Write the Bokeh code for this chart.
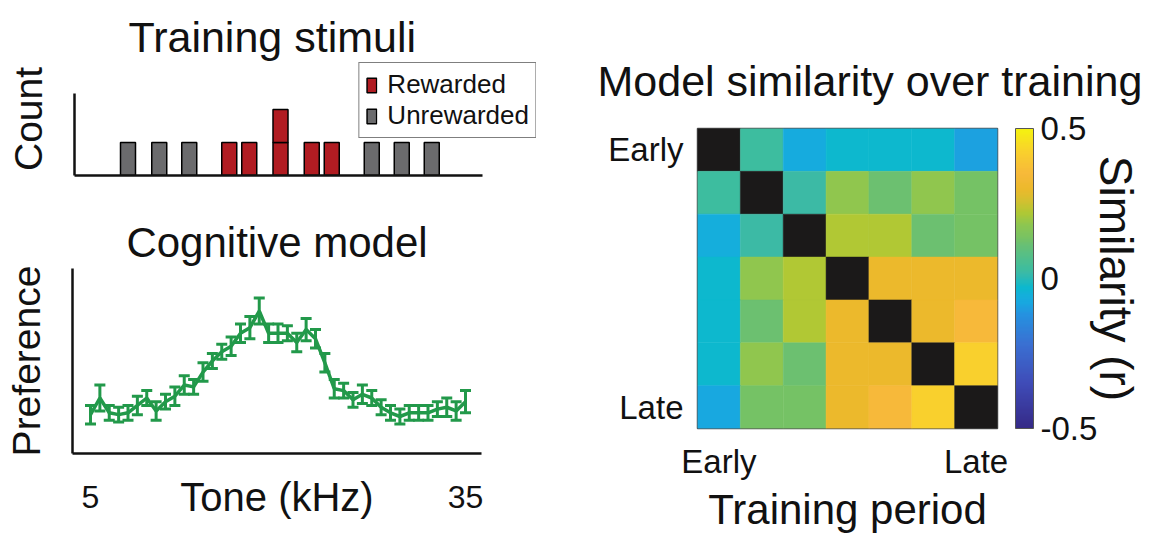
import numpy as np
from bokeh.plotting import figure
from bokeh.layouts import row, column
from bokeh.models import (ColumnDataSource, Whisker, TeeHead, LinearColorMapper, ColorBar,
                          FixedTicker, CustomJSTickFormatter, Title, Legend, LegendItem)
from bokeh.embed import file_html
from bokeh.resources import INLINE

# ---------------- data ----------------
# Training stimuli (tone in kHz, number of stimuli, rewarded?)
stim_tone = [8.0, 10.5, 12.9, 16.1, 17.7, 20.2, 22.7, 24.3, 27.5, 29.9, 32.3]
stim_count = [1, 1, 1, 1, 1, 2, 1, 1, 1, 1, 1]
stim_rewarded = [False, False, False, True, True, True, True, True, False, False, False]

# Cognitive model preference curve
model_tone = [5.0, 5.75, 6.5, 7.25, 8.0, 8.75, 9.5, 10.25, 11.0, 11.75, 12.5, 13.25, 14.0,
              14.75, 15.5, 16.25, 17.0, 17.75, 18.5, 19.25, 20.0, 20.75, 21.5, 22.25, 23.0,
              23.75, 24.5, 25.25, 26.0, 26.75, 27.5, 28.25, 29.0, 29.75, 30.5, 31.25, 32.0,
              32.75, 33.5, 34.25, 35.0]
model_pref = [0.21, 0.30, 0.22, 0.21, 0.22, 0.26, 0.30, 0.23, 0.28, 0.31, 0.37, 0.36, 0.44,
              0.50, 0.55, 0.58, 0.65, 0.68, 0.77, 0.65, 0.65, 0.65, 0.60, 0.67, 0.62,
              0.49, 0.35, 0.34, 0.29, 0.32, 0.30, 0.25, 0.22, 0.20, 0.22, 0.22, 0.22,
              0.24, 0.25, 0.23, 0.28]
model_err = [0.05, 0.07, 0.04, 0.04, 0.04, 0.05, 0.04, 0.05, 0.04, 0.05, 0.05, 0.04, 0.05,
             0.04, 0.04, 0.05, 0.05, 0.06, 0.07, 0.05, 0.05, 0.04, 0.05, 0.06, 0.05,
             0.05, 0.05, 0.04, 0.04, 0.05, 0.04, 0.04, 0.04, 0.04, 0.04, 0.04, 0.04,
             0.04, 0.05, 0.05, 0.06]
tone_ticks = [5, 35]

# Model similarity over training (rows/cols: training periods, early -> late)
nan = float("nan")
similarity = [
    [nan, 0.03, -0.07, -0.03, -0.03, -0.03, -0.09],
    [0.03, nan, 0.02, 0.18, 0.12, 0.18, 0.13],
    [-0.06, 0.02, nan, 0.22, 0.22, 0.12, 0.13],
    [-0.03, 0.18, 0.22, nan, 0.30, 0.30, 0.30],
    [-0.03, 0.12, 0.22, 0.30, nan, 0.30, 0.35],
    [-0.03, 0.18, 0.12, 0.30, 0.30, nan, 0.42],
    [-0.08, 0.13, 0.13, 0.30, 0.35, 0.42, nan],
]
period_ticks = [0, 6]
period_tick_labels = ["Early", "Late"]
sim_ticks = [-0.5, 0, 0.5]

# ---------------- style ----------------
FONT = "Liberation Sans"
INK = "#111111"
RED = "#b11c22"
GRAY = "#6b6b6d"
GREEN = "#22994a"

parula_anchor = [(0.0, "#352a87"), (0.15, "#3f4cb8"), (0.28, "#3a70d2"), (0.38, "#2592e0"),
                 (0.42, "#18a8e0"), (0.44, "#15aedc"), (0.47, "#0cb8ce"), (0.52, "#3cbaa6"),
                 (0.53, "#3dbd9f"), (0.62, "#6cc070"), (0.63, "#74c266"), (0.68, "#8ec650"),
                 (0.72, "#b0c834"), (0.76, "#d4c030"), (0.80, "#ecb92c"), (0.85, "#f7b93a"),
                 (0.92, "#f9cf2e"), (1.0, "#f5f210")]


def _rgb(h):
    return [int(h[i:i + 2], 16) for i in (1, 3, 5)]


_t = np.array([a[0] for a in parula_anchor])
_c = np.array([_rgb(a[1]) for a in parula_anchor], dtype=float)
_g = np.linspace(0, 1, 256)
palette = ["#%02x%02x%02x" % tuple(int(round(np.interp(g, _t, _c[:, k]))) for k in range(3))
           for g in _g]


def style_axis(ax, size="39px"):
    ax.axis_label_text_font = FONT
    ax.axis_label_text_font_style = "normal"
    ax.axis_label_text_font_size = size
    ax.axis_label_text_color = INK
    ax.major_label_text_font = FONT
    ax.major_label_text_color = INK
    ax.major_tick_line_color = None
    ax.minor_tick_line_color = None
    ax.axis_line_color = INK


def style_title(t, size, standoff):
    t.text_font = FONT
    t.text_font_size = size
    t.text_font_style = "normal"
    t.text_color = INK
    t.standoff = standoff


# ---------------- panel 1: training stimuli ----------------
p1 = figure(width=548, height=208, x_range=(3.72, 40.68), y_range=(0, 3.42),
            output_backend="svg", toolbar_location=None, frame_align=False,
            min_border_left=74, min_border_right=12, min_border_top=62, min_border_bottom=33)
p1.title.text = "Training stimuli"
style_title(p1.title, "43px", 3)
p1.title.align = "left"
p1.title.offset = 54

boxes = {True: dict(x=[], bottom=[], top=[]), False: dict(x=[], bottom=[], top=[])}
for tone, cnt, rew in zip(stim_tone, stim_count, stim_rewarded):
    for k in range(cnt):
        boxes[rew]["x"].append(tone)
        boxes[rew]["bottom"].append(k)
        boxes[rew]["top"].append(k + 1)

r_rew = p1.vbar(x="x", bottom="bottom", top="top", width=1.2, source=ColumnDataSource(boxes[True]),
                fill_color=RED, line_color="black", line_width=1.5)
r_unr = p1.vbar(x="x", bottom="bottom", top="top", width=1.2, source=ColumnDataSource(boxes[False]),
                fill_color=GRAY, line_color="black", line_width=1.5)

p1.grid.visible = False
p1.outline_line_color = None
p1.xaxis.ticker = FixedTicker(ticks=[])
p1.yaxis.ticker = FixedTicker(ticks=[])
p1.xaxis.bounds = (3.72, 36.36)
p1.yaxis.bounds = (0, 2.48)
style_axis(p1.xaxis)
style_axis(p1.yaxis)
p1.xaxis.axis_line_width = 2.5
p1.yaxis.axis_line_width = 2.5
p1.yaxis.axis_label = "Count"
p1.yaxis.axis_label_standoff = 25

legend = Legend(items=[LegendItem(label="Rewarded", renderers=[r_rew]),
                       LegendItem(label="Unrewarded", renderers=[r_unr])],
                location="top_right", margin=0, padding=6, spacing=0,
                label_text_font=FONT, label_text_font_size="26px", label_text_color=INK,
                glyph_width=12, glyph_height=18, label_standoff=10, label_height=28,
                border_line_color="black", border_line_width=1.5)
p1.add_layout(legend)

# ---------------- panel 2: cognitive model ----------------
p2 = figure(width=548, height=327, x_range=(3.56, 36.28), y_range=(0, 1),
            output_backend="svg", toolbar_location=None, frame_align=False,
            min_border_left=72, min_border_right=67, min_border_top=60, min_border_bottom=82)
p2.title.text = "Cognitive model"
style_title(p2.title, "42px", 5)
p2.title.align = "center"

src2 = ColumnDataSource(dict(tone=model_tone, pref=model_pref,
                             lower=[p - e for p, e in zip(model_pref, model_err)],
                             upper=[p + e for p, e in zip(model_pref, model_err)]))
p2.line("tone", "pref", source=src2, line_color=GREEN, line_width=3.5)
wh = Whisker(source=src2, base="tone", lower="lower", upper="upper",
             line_color=GREEN, line_width=3,
             upper_head=TeeHead(size=11, line_color=GREEN, line_width=3),
             lower_head=TeeHead(size=11, line_color=GREEN, line_width=3))
p2.add_layout(wh)

p2.grid.visible = False
p2.outline_line_color = None
p2.xaxis.ticker = FixedTicker(ticks=tone_ticks)
p2.yaxis.ticker = FixedTicker(ticks=[])
style_axis(p2.xaxis, "40px")
style_axis(p2.yaxis)
p2.xaxis.axis_line_width = 2.5
p2.yaxis.axis_line_width = 2.5
p2.xaxis.major_label_text_font_size = "32px"
p2.xaxis.major_label_standoff = 26
p2.xaxis.axis_label = "Tone (kHz)"
p2.xaxis.axis_label_standoff = -36
p2.yaxis.axis_label = "Preference"
p2.yaxis.axis_label_standoff = 25

# ---------------- panel 3: similarity matrix ----------------
n = len(similarity)
cells = dict(col=[], row=[], sim=[])
for i in range(n):
    for j in range(n):
        cells["row"].append(i)
        cells["col"].append(j)
        cells["sim"].append(similarity[i][j])
cells = {k: np.array(v, dtype=float) for k, v in cells.items()}

mapper = LinearColorMapper(palette=palette, low=-0.5, high=0.5, nan_color="#1b1919")

p3 = figure(width=603, height=535, x_range=(-0.5, n - 0.5), y_range=(n - 0.5, -0.5),
            output_backend="svg", toolbar_location=None, frame_align=False,
            min_border_left=149, min_border_right=154, min_border_top=128, min_border_bottom=107)
p3.rect(x="col", y="row", width=1, height=1, source=ColumnDataSource(cells),
        fill_color={"field": "sim", "transform": mapper},
        line_color={"field": "sim", "transform": mapper}, line_width=0.5)
p3.title.text = "Model similarity over training"
style_title(p3.title, "43px", 47)
p3.title.align = "left"
p3.title.offset = -100

p3.grid.visible = False
p3.outline_line_color = "#555555"
p3.outline_line_width = 1.5
for ax in (p3.xaxis, p3.yaxis):
    ax.ticker = FixedTicker(ticks=period_ticks)
    ax.major_label_overrides = dict(zip(period_ticks, period_tick_labels))
    style_axis(ax, "42px")
    ax.axis_line_color = None
    ax.major_tick_out = 0
    ax.major_tick_in = 0
    ax.major_label_text_font_size = "33px"
p3.xaxis.major_label_standoff = 14
p3.yaxis.major_label_standoff = 14
p3.xaxis.axis_label = "Training period"
p3.xaxis.axis_label_standoff = 3

cbar = ColorBar(color_mapper=mapper, ticker=FixedTicker(ticks=sim_ticks),
                formatter=CustomJSTickFormatter(code="return String(tick)"),
                width=18, height=300, location="center_left", margin=0, padding=18,
                major_tick_line_color=None, minor_tick_line_color=None,
                bar_line_color="#555555", bar_line_width=1,
                label_standoff=7, major_label_text_font=FONT, major_label_text_font_size="33px",
                major_label_text_color=INK,
                background_fill_alpha=0, border_line_color=None)
p3.add_layout(cbar, "right")
p3.add_layout(Title(text="Similarity (r)", text_font=FONT, text_font_size="46px",
                    text_font_style="normal", text_color=INK, align="center",
                    standoff=-57), "right")

layout = row(column(p1, p2), p3)
open("out.html", "w").write(file_html(layout, INLINE))
